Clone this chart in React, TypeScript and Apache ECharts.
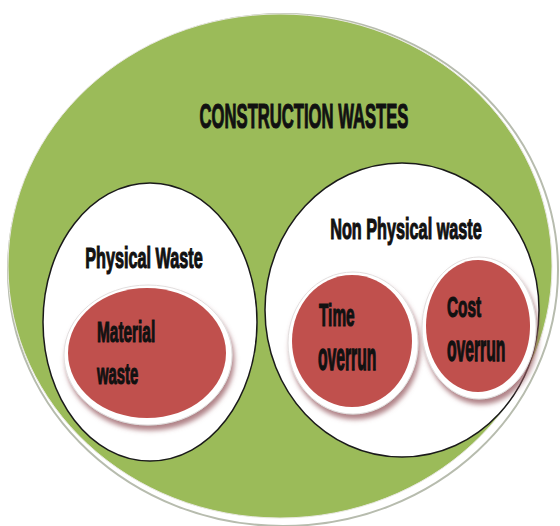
import React, { useEffect, useRef } from "react";
import * as echarts from "echarts";

// ---- content (labels) ----
const rootLabel: string = "CONSTRUCTION WASTES";
const groupLabels: string[] = ["Physical Waste", "Non Physical waste"];
const leafLabels: string[][] = [
  ["Material", "waste"],
  ["Time", "overrun"],
  ["Cost", "overrun"],
];

// ---- layout ----
const OUTER = { cx: 280, cy: 266, rx: 272, ry: 252 };
const GROUPS = [
  { cx: 150, cy: 322, rx: 107, ry: 139 },
  { cx: 402, cy: 310, rx: 137, ry: 147 },
];
const GROUP_TEXT = [
  { x: 144, y: 258, sx: 0.58, sy: 1.05 },
  { x: 406, y: 229, sx: 0.58, sy: 1.05 },
];
const LEAVES = [
  { cx: 147, cy: 353, rx: 79, ry: 65 },
  { cx: 352, cy: 341, rx: 60, ry: 66 },
  { cx: 478, cy: 326, rx: 52, ry: 66 },
];
const LEAF_TEXT = [
  [
    { x: 97, y: 331, sx: 0.55, sy: 1.08 },
    { x: 97, y: 373, sx: 0.53, sy: 1.08 },
  ],
  [
    { x: 319, y: 315, sx: 0.55, sy: 1.12 },
    { x: 318, y: 356, sx: 0.56, sy: 1.4 },
  ],
  [
    { x: 447, y: 306, sx: 0.55, sy: 1.08 },
    { x: 447, y: 348, sx: 0.56, sy: 1.32 },
  ],
];

const FONT = "'Liberation Sans', Arial, sans-serif";

export default function App() {
  const ref = useRef<HTMLDivElement>(null);

  useEffect(() => {
    if (!ref.current) return;
    const chart = echarts.init(ref.current, undefined, { renderer: "svg" });
    const els: any[] = [];
    let z = 0;

    const textStyle = (text: string, size: number, align: string) => ({
      text,
      fill: "#111111",
      stroke: "#111111",
      lineWidth: 1.1,
      font: `bold ${size}px ${FONT}`,
      align,
      verticalAlign: "middle",
    });

    // outer rim
    els.push({
      type: "ellipse",
      z: z++,
      shape: { cx: OUTER.cx + 3, cy: OUTER.cy + 4, rx: OUTER.rx + 3, ry: OUTER.ry + 4 },
      style: { fill: "#ffffff", stroke: "#b7bcae", lineWidth: 2 },
    });
    // green
    els.push({
      type: "ellipse",
      z: z++,
      shape: { ...OUTER },
      style: { fill: "#9bbb59", stroke: "#e8e8e0", lineWidth: 1 },
    });
    // group ellipses
    GROUPS.forEach((g) => {
      els.push({
        type: "ellipse",
        z: z++,
        shape: { ...g },
        style: { fill: "#ffffff", stroke: "#1a1a1a", lineWidth: 1.5 },
      });
    });
    // leaves
    LEAVES.forEach((l) => {
      els.push({
        type: "ellipse",
        z: z++,
        shape: { cx: l.cx + 1, cy: l.cy + 2, rx: l.rx + 5, ry: l.ry + 5 },
        style: {
          fill: "#ffffff",
          stroke: "#e2dede",
          lineWidth: 1,
          shadowBlur: 5,
          shadowColor: "rgba(150,90,95,0.75)",
          shadowOffsetX: 2,
          shadowOffsetY: 5,
        },
      });
      els.push({
        type: "ellipse",
        z: z++,
        shape: { ...l },
        style: { fill: "#c0504d" },
      });
    });
    // root text
    els.push({
      type: "text",
      z: z++,
      x: 304,
      y: 116,
      scaleX: 0.52,
      scaleY: 1.08,
      style: textStyle(rootLabel, 32, "center"),
    });
    groupLabels.forEach((t, i) => {
      const p = GROUP_TEXT[i];
      els.push({
        type: "text",
        z: z++,
        x: p.x,
        y: p.y,
        scaleX: p.sx,
        scaleY: p.sy,
        style: textStyle(t, 28, "center"),
      });
    });
    leafLabels.forEach((lines, i) => {
      lines.forEach((t, j) => {
        const p = LEAF_TEXT[i][j];
        els.push({
          type: "text",
          z: z++,
          x: p.x,
          y: p.y,
          scaleX: p.sx,
          scaleY: p.sy,
          style: textStyle(t, 28, "left"),
        });
      });
    });

    chart.setOption({
      animation: false,
      backgroundColor: "#ffffff",
      graphic: { elements: els },
    });
    return () => chart.dispose();
  }, []);

  return (
    <div
      ref={ref}
      style={{ position: "fixed", left: 0, top: 0, width: 560, height: 526 }}
    />
  );
}
